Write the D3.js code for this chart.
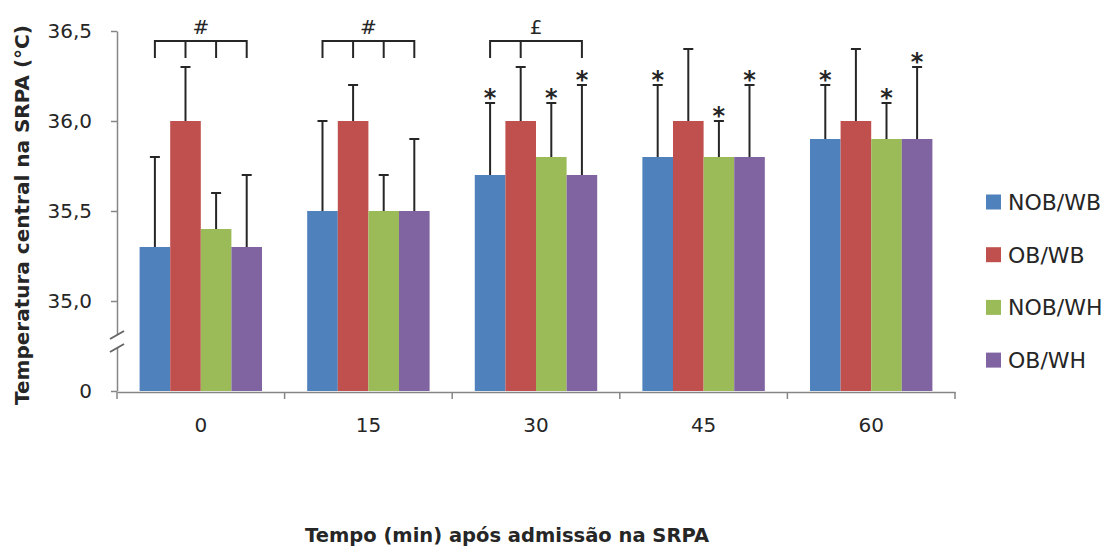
<!DOCTYPE html>
<html>
<head>
<meta charset="utf-8">
<script src="https://cdn.jsdelivr.net/npm/d3@7"></script>
<style>
  html, body { margin: 0; padding: 0; background: #fff; }
  svg { display: block; font-family: "DejaVu Sans", sans-serif; }
</style>
</head>
<body>
<svg id="chart" width="1116" height="550"></svg>
<script>
// Time points after admission (min)
const categories = ["0", "15", "30", "45", "60"];
const seriesNames = ["NOB/WB", "OB/WB", "NOB/WH", "OB/WH"];
const seriesColors = ["#4F81BD", "#C0504D", "#9BBB59", "#8064A2"];

// Mean core temperature per series (°C), one value per time point
const nobWB = [35.3, 35.5, 35.7, 35.8, 35.9];
const obWB  = [36.0, 36.0, 36.0, 36.0, 36.0];
const nobWH = [35.4, 35.5, 35.8, 35.8, 35.9];
const obWH  = [35.3, 35.5, 35.7, 35.8, 35.9];

// Upper end of the error bar (mean + SD)
const nobWBTop = [35.8, 36.0, 36.1, 36.2, 36.2];
const obWBTop  = [36.3, 36.2, 36.3, 36.4, 36.4];
const nobWHTop = [35.6, 35.7, 36.1, 36.0, 36.1];
const obWHTop  = [35.7, 35.9, 36.2, 36.2, 36.3];

// Y tick values; the lowest one sits below the axis break and reads "0"
const yTicks = [34.5, 35.0, 35.5, 36.0, 36.5];
const yTickLabels = ["0", "35,0", "35,5", "36,0", "36,5"];

// Asterisks: [category index, series index]
const stars = [[2,0],[2,2],[2,3],[3,0],[3,2],[3,3],[4,0],[4,2],[4,3]];
// Brackets: category, symbol, series joined
const brackets = [
  { cat: 0, symbol: "#", members: [0, 1, 2, 3] },
  { cat: 1, symbol: "#", members: [0, 1, 2, 3] },
  { cat: 2, symbol: "£", members: [0, 1, 3] }
];

const means = [nobWB, obWB, nobWH, obWH];
const tops = [nobWBTop, obWBTop, nobWHTop, obWHTop];

const svg = d3.select("#chart");
const textColor = "#262626";
const axisColor = "#868686";
const fontFamily = "'DejaVu Sans', sans-serif";

const plotLeft = 117, plotRight = 955, plotTop = 31, plotBottom = 391;

const y = d3.scaleLinear().domain([34.5, 36.5]).range([plotBottom, plotTop]);
const x0 = d3.scaleBand().domain(categories).range([plotLeft, plotRight]).padding(0);
const x1 = d3.scaleBand().domain(d3.range(seriesNames.length))
  .range([0, x0.bandwidth()]).paddingInner(0).paddingOuter(0.738);

// Bars
const groups = svg.append("g").selectAll("g")
  .data(categories).join("g")
  .attr("transform", c => `translate(${x0(c)},0)`);

groups.selectAll("rect")
  .data((c, ci) => seriesNames.map((s, si) => ({ si, v: means[si][ci] })))
  .join("rect")
  .attr("x", d => x1(d.si))
  .attr("y", d => y(d.v))
  .attr("width", x1.bandwidth())
  .attr("height", d => y(34.5) - y(d.v))
  .attr("fill", d => seriesColors[d.si]);

// Error bars
const capHalf = 5;
groups.selectAll("g.err")
  .data((c, ci) => seriesNames.map((s, si) => ({ si, v: means[si][ci], t: tops[si][ci] })))
  .join("g").attr("class", "err")
  .each(function(d) {
    const g = d3.select(this);
    const cx = x1(d.si) + x1.bandwidth() / 2;
    g.append("line").attr("x1", cx).attr("x2", cx)
      .attr("y1", y(d.v)).attr("y2", y(d.t))
      .attr("stroke", textColor).attr("stroke-width", 2);
    g.append("line").attr("x1", cx - capHalf).attr("x2", cx + capHalf)
      .attr("y1", y(d.t)).attr("y2", y(d.t))
      .attr("stroke", textColor).attr("stroke-width", 2);
  });

// Y axis
const yAxis = d3.axisLeft(y).tickValues(yTicks)
  .tickFormat((d, i) => yTickLabels[i]).tickSize(6).tickSizeOuter(0).tickPadding(19);
const gy = svg.append("g").attr("transform", `translate(${plotLeft},0)`).call(yAxis);
gy.select(".domain").attr("stroke", axisColor).attr("stroke-width", 1.5);
gy.selectAll(".tick line").attr("stroke", axisColor).attr("stroke-width", 1.5);
gy.selectAll(".tick text").attr("fill", textColor)
  .style("font-size", "20px").style("font-family", fontFamily);

// Axis break marks
const breakG = svg.append("g");
breakG.append("path")
  .attr("d", `M${plotLeft - 7},${339} L${plotLeft + 7},${331} L${plotLeft + 7},${344} L${plotLeft - 7},${352} Z`)
  .attr("fill", "#fff");
[[339, 331], [352, 344]].forEach(([ya, yb]) => {
  breakG.append("line")
    .attr("x1", plotLeft - 7).attr("y1", ya).attr("x2", plotLeft + 7).attr("y2", yb)
    .attr("stroke", "#666").attr("stroke-width", 2);
});

// X axis with boundary ticks between categories
const xAxis = d3.axisBottom(x0).tickSize(0).tickPadding(26).tickSizeOuter(0);
const gx = svg.append("g").attr("transform", `translate(0,${plotBottom + 1})`).call(xAxis);
gx.select(".domain").attr("stroke", axisColor).attr("stroke-width", 1.5);
gx.selectAll(".tick text").attr("fill", textColor)
  .style("font-size", "20px").style("font-family", fontFamily);
const bounds = categories.map(c => x0(c)).concat([x0(categories[categories.length - 1]) + x0.bandwidth()]);
gx.selectAll("line.bound").data(bounds).join("line").attr("class", "bound")
  .attr("x1", d => d).attr("x2", d => d).attr("y1", 0).attr("y2", 7)
  .attr("stroke", axisColor).attr("stroke-width", 1.5);

// Significance brackets
const bracketY = 41, bracketDrop = 17;
brackets.forEach(b => {
  const c = categories[b.cat];
  const xs = b.members.map(si => x0(c) + x1(si) + x1.bandwidth() / 2);
  const g = svg.append("g");
  g.append("line").attr("x1", d3.min(xs)).attr("x2", d3.max(xs))
    .attr("y1", bracketY).attr("y2", bracketY)
    .attr("stroke", textColor).attr("stroke-width", 2);
  xs.forEach(xx => g.append("line").attr("x1", xx).attr("x2", xx)
    .attr("y1", bracketY - 1).attr("y2", bracketY + bracketDrop)
    .attr("stroke", textColor).attr("stroke-width", 2));
  g.append("text").attr("x", (d3.min(xs) + d3.max(xs)) / 2).attr("y", 34)
    .attr("text-anchor", "middle").attr("fill", textColor)
    .style("font-size", "20px").text(b.symbol);
});

// Asterisks above error bars
svg.append("g").selectAll("text").data(stars).join("text")
  .attr("x", ([ci, si]) => x0(categories[ci]) + x1(si) + x1.bandwidth() / 2)
  .attr("y", ([ci, si]) => y(tops[si][ci]) + 3)
  .attr("text-anchor", "middle").attr("fill", textColor)
  .style("font-size", "24px").style("font-weight", "bold").text("*");

// Legend
const legend = svg.append("g").selectAll("g").data(seriesNames).join("g")
  .attr("transform", (d, i) => `translate(986,${202 + i * 52.7})`);
legend.append("rect").attr("x", 0).attr("y", -7.5).attr("width", 15).attr("height", 15)
  .attr("fill", (d, i) => seriesColors[i]);
legend.append("text").attr("x", 22).attr("y", 8).attr("fill", textColor)
  .style("font-size", "22px").text(d => d);

// Axis titles
svg.append("text")
  .attr("transform", `translate(29,215) rotate(-90)`)
  .attr("text-anchor", "middle").attr("fill", textColor)
  .style("font-size", "20px").style("font-weight", "bold")
  .text("Temperatura central na SRPA (°C)");
svg.append("text")
  .attr("x", 507).attr("y", 542)
  .attr("text-anchor", "middle").attr("fill", textColor)
  .style("font-size", "19.5px").style("font-weight", "bold")
  .text("Tempo (min) após admissão na SRPA");
</script>
</body>
</html>
